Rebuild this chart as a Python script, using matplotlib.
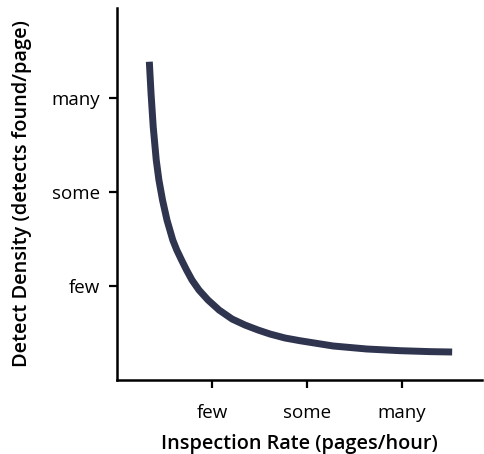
import matplotlib
matplotlib.use("Agg")
import matplotlib.pyplot as plt

# Data (x: inspection rate, y: detect density; tick units)
rate = [0.340, 0.358, 0.381, 0.413, 0.441, 0.479, 0.526, 0.587, 0.629, 0.679,
        0.732, 0.789, 0.863, 0.958, 1.074, 1.211, 1.347, 1.484, 1.611, 1.768,
        1.926, 2.274, 2.628, 2.979, 3.295, 3.526]
density = [3.388, 3.053, 2.695, 2.340, 2.128, 1.915, 1.702, 1.489, 1.383, 1.277,
           1.170, 1.064, 0.957, 0.851, 0.745, 0.649, 0.585, 0.532, 0.489, 0.447,
           0.418, 0.362, 0.330, 0.312, 0.302, 0.298]
tick_pos = [1, 2, 3]
tick_labels = ["few", "some", "many"]

plt.rcParams['font.family'] = ['Open Sans', 'DejaVu Sans']

fig = plt.figure(figsize=(4.84, 4.54), dpi=100)
ax = fig.add_axes([117/484, (454-380)/454, 365/484, 372/454])
ax.plot(rate, density, color="#2f344f", lw=5.0, solid_capstyle="butt",
        solid_joinstyle="round")
ax.set_xlim(0, 3.84)
ax.set_ylim(0, 3.96)
for s in ["top", "right"]:
    ax.spines[s].set_visible(False)
for s in ["left", "bottom"]:
    ax.spines[s].set_linewidth(1.8)
    ax.spines[s].set_color("black")
ax.set_xticks(tick_pos)
ax.set_xticklabels(tick_labels)
ax.set_yticks(tick_pos)
ax.set_yticklabels(tick_labels)
ax.tick_params(axis="both", length=6, width=1.6, labelsize=13.5, color="black")
ax.tick_params(axis="x", pad=11)
ax.tick_params(axis="y", pad=6)
ax.set_xlabel("Inspection Rate (pages/hour)", fontsize=14.3, fontweight="semibold", labelpad=9)
ax.set_ylabel("Detect Density (detects found/page)", fontsize=14.4, fontweight="semibold", labelpad=14)
fig.savefig("out.png", dpi=100)
